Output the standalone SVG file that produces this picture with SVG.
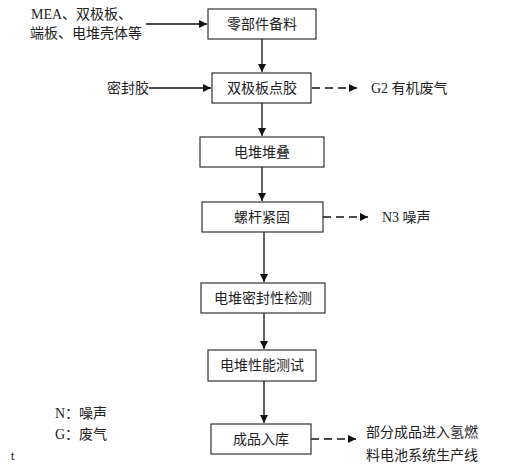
<svg xmlns="http://www.w3.org/2000/svg" width="513" height="470" viewBox="0 0 513 470">
<style>
.box{fill:#fff;stroke:#333;stroke-width:1.2}
.t{font-family:"Liberation Serif","Noto Sans CJK SC",serif;font-size:14px;fill:#222}
.c{text-anchor:middle}
.ln{stroke:#111;stroke-width:1.3;fill:none}
.dash{stroke-dasharray:8 5}
</style>
<defs>
<marker id="ah" viewBox="0 0 10 10" refX="10" refY="5" markerWidth="8" markerHeight="8" markerUnits="userSpaceOnUse" orient="auto">
<path d="M0,0 L10,5 L0,10 z" fill="#111"/>
</marker>
</defs>
<g id="connectors">
<line class="ln" x1="146" y1="24" x2="207" y2="24" marker-end="url(#ah)"/>
<line class="ln" x1="149" y1="88" x2="211" y2="88" marker-end="url(#ah)"/>
<line class="ln" x1="262" y1="39" x2="262" y2="72" marker-end="url(#ah)"/>
<line class="ln" x1="262" y1="103" x2="262" y2="136" marker-end="url(#ah)"/>
<line class="ln" x1="262" y1="167" x2="262" y2="201" marker-end="url(#ah)"/>
<line class="ln" x1="264" y1="232" x2="264" y2="282" marker-end="url(#ah)"/>
<line class="ln" x1="264" y1="313" x2="264" y2="349" marker-end="url(#ah)"/>
<line class="ln" x1="264" y1="381" x2="264" y2="423" marker-end="url(#ah)"/>
<line class="ln dash" x1="312" y1="88" x2="357" y2="88" marker-end="url(#ah)"/>
<line class="ln dash" x1="323" y1="217" x2="368" y2="217" marker-end="url(#ah)"/>
<line class="ln dash" x1="311" y1="439" x2="356" y2="439" marker-end="url(#ah)"/>
</g>
<g id="inputs">
<text class="t" x="31" y="19">MEA、双极板、</text>
<text class="t" x="30" y="38">端板、电堆壳体等</text>
<text class="t" x="107" y="93">密封胶</text>
</g>
<g id="n1"><rect class="box" x="208" y="9" width="108" height="30"/><text class="t c" x="262" y="29">零部件备料</text></g>
<g id="n2"><rect class="box" x="212" y="73" width="99" height="30"/><text class="t c" x="262" y="93">双极板点胶</text></g>
<g id="n3"><rect class="box" x="200" y="137" width="124" height="30"/><text class="t c" x="262" y="157">电堆堆叠</text></g>
<g id="n4"><rect class="box" x="202" y="202" width="121" height="30"/><text class="t c" x="262" y="222">螺杆紧固</text></g>
<g id="n5"><rect class="box" x="201" y="283" width="124" height="30"/><text class="t c" x="263" y="303">电堆密封性检测</text></g>
<g id="n6"><rect class="box" x="208" y="350" width="108" height="31"/><text class="t c" x="262" y="370">电堆性能测试</text></g>
<g id="n7"><rect class="box" x="211" y="424" width="100" height="30"/><text class="t c" x="261" y="444">成品入库</text></g>
<g id="outputs">
<text class="t" x="371" y="93">G2 有机废气</text>
<text class="t" x="382" y="222">N3 噪声</text>
<text class="t" x="366" y="437">部分成品进入氢燃</text>
<text class="t" x="366" y="460">料电池系统生产线</text>
</g>
<g id="legend">
<text class="t" x="55" y="418">N：噪声</text>
<text class="t" x="55" y="439">G：废气</text>
<text x="11" y="460" style="font-family:'Liberation Sans',sans-serif;font-size:11px;fill:#111">t</text>
</g>
</svg>
